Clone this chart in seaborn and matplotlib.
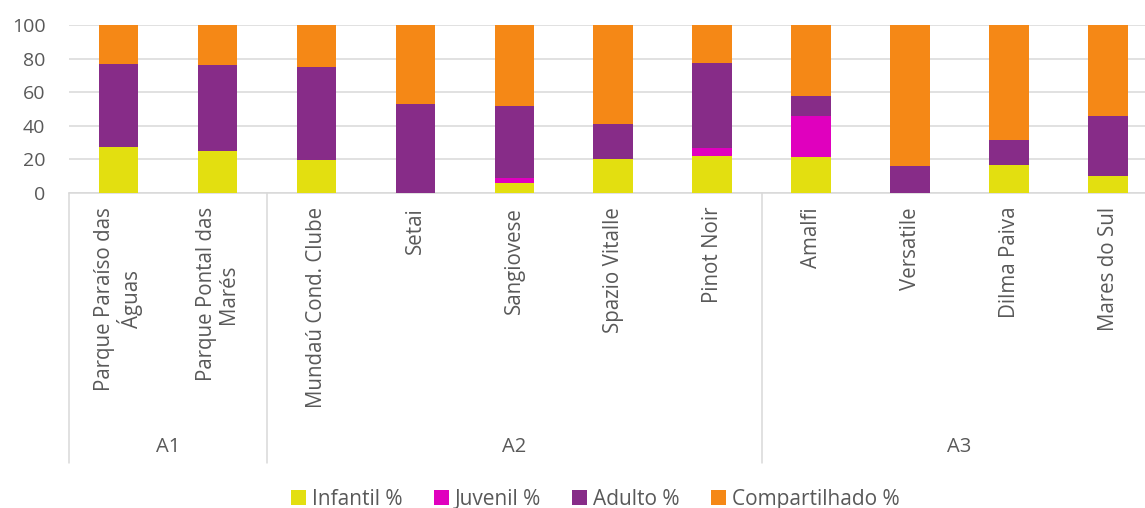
"""Stacked 100% bar chart: share of each age group per condominium, grouped by area."""

import matplotlib

matplotlib.use("Agg")
import matplotlib.pyplot as plt
import numpy as np
import pandas as pd
import seaborn as sns
from matplotlib.patches import Patch

# ---- data -----------------------------------------------------------------
categories = [
    "Parque Paraíso das\nÁguas", "Parque Pontal das\nMarés", "Mundaú Cond. Clube",
    "Setai", "Sangiovese", "Spazio Vitalle", "Pinot Noir",
    "Amalfi", "Versatile", "Dilma Paiva", "Mares do Sul",
]
groups = ["A1", "A1", "A2", "A2", "A2", "A2", "A2", "A3", "A3", "A3", "A3"]
infantil = [27.4, 25.2, 19.7, 0.0, 5.8, 20.1, 22.3, 21.5, 0.0, 16.7, 10.1]
juvenil = [0.0, 0.0, 0.0, 0.0, 3.0, 0.0, 4.3, 24.2, 0.0, 0.0, 0.0]
adulto = [49.1, 50.9, 55.2, 52.9, 42.7, 21.2, 50.5, 11.9, 16.3, 15.1, 36.0]
compartilhado = [23.5, 23.9, 25.1, 47.1, 48.5, 58.7, 22.9, 42.4, 83.7, 68.2, 53.9]
series_names = ["Infantil %", "Juvenil %", "Adulto %", "Compartilhado %"]
y_ticks = [0, 20, 40, 60, 80, 100]

colors = ["#E3DF10", "#E000BE", "#872C88", "#F58816"]
text_color = "#595959"
grid_color = "#D9D9D9"

sns.set_theme(style="white")
plt.rcParams["font.family"] = ["Open Sans", "DejaVu Sans"]

df = pd.DataFrame({
    "categoria": categories,
    "grupo": groups,
    "Infantil %": infantil,
    "Juvenil %": juvenil,
    "Adulto %": adulto,
    "Compartilhado %": compartilhado,
})
# cumulative tops, drawn from the tallest down so the shorter bars sit on top
cum = df[series_names].cumsum(axis=1)

W, H = 1145, 508
fig = plt.figure(figsize=(W / 100, H / 100), dpi=100)
ax = fig.add_axes([69 / W, (H - 193) / H, 1 - 69 / W, 168 / H])

for name, color in reversed(list(zip(series_names, colors))):
    sns.barplot(x=df["categoria"], y=cum[name], order=categories, color=color,
                width=0.4, linewidth=0, saturation=1, ax=ax, zorder=3)

n = len(categories)
ax.set_xlim(-0.5, (n - 1) + (W - 1108) / 99)
ax.set_ylim(0, 100)
ax.set_yticks(y_ticks)
ax.set_yticklabels([str(t) for t in y_ticks], fontsize=14, color=text_color)
ax.yaxis.grid(True, color=grid_color, linewidth=1.1, zorder=0)
ax.tick_params(axis="y", length=0, pad=17)
ax.tick_params(axis="x", length=0, pad=10)
ax.set_xlabel("")
ax.set_ylabel("")
for side in ["left", "right", "top"]:
    ax.spines[side].set_visible(False)
ax.spines["bottom"].set_color(grid_color)
ax.spines["bottom"].set_linewidth(1.1)

ax.set_xticks(range(n))
ax.set_xticklabels(categories, rotation=90, ha="center", va="top",
                   multialignment="center", fontsize=14.8, color=text_color,
                   linespacing=1.05)

# group separators and group labels
trans = ax.get_xaxis_transform()
grp = np.array(groups)
bounds = [-0.5] + [i + 0.5 for i in range(n - 1) if grp[i] != grp[i + 1]]
for b in bounds:
    ax.plot([b, b], [0, -1.61], transform=trans, color=grid_color,
            linewidth=1.1, clip_on=False)
for g in dict.fromkeys(groups):
    idx = np.where(grp == g)[0]
    ax.text(idx.mean(), -1.51, g, transform=trans, ha="center", va="center",
            fontsize=14.5, color=text_color)

handles = [Patch(facecolor=c, edgecolor="none") for c in colors]
fig.legend(handles, series_names, loc="center", bbox_to_anchor=(0.52, 0.017),
           ncol=4, frameon=False, fontsize=15, labelcolor=text_color,
           handlelength=0.7, handleheight=0.7, handletextpad=0.3,
           columnspacing=1.5)

fig.savefig("out.png", dpi=100)
